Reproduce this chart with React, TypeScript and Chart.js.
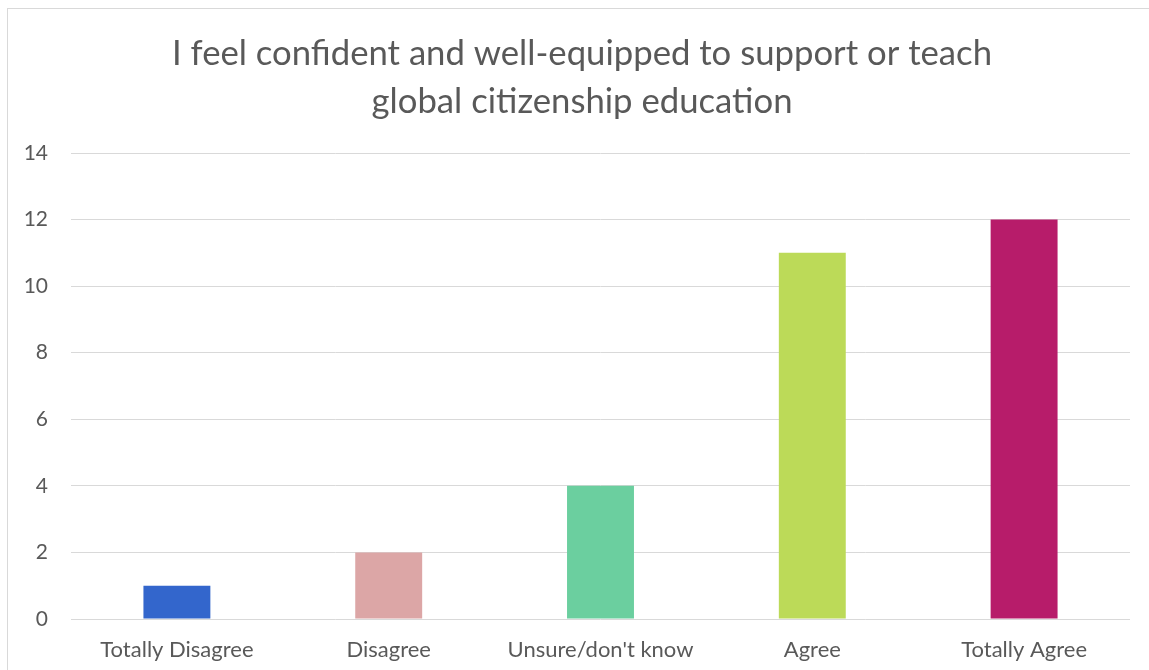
import React, { useEffect, useRef } from "react";
import { Chart, registerables } from "chart.js";

Chart.register(...registerables);

const titleLines = ["I feel confident and well-equipped to support or teach", "global citizenship education"];
const categories = ["Totally Disagree", "Disagree", "Unsure/don't know", "Agree", "Totally Agree"];
const counts = [1, 2, 4, 11, 12];
const barColors = ["#3366CC", "#DCA6A6", "#6BCF9F", "#BCDA58", "#B71C6A"];
const yTicks = [0, 2, 4, 6, 8, 10, 12, 14];

const FONT = "Lato, 'Open Sans', sans-serif";

export default function App() {
  const ref = useRef<HTMLCanvasElement | null>(null);

  useEffect(() => {
    if (!ref.current) return;
    const chart = new Chart(ref.current, {
      type: "bar",
      data: {
        labels: categories,
        datasets: [
          {
            data: counts,
            backgroundColor: barColors,
            borderWidth: 0,
            categoryPercentage: 1,
            barPercentage: 0.316,
          },
        ],
      },
      options: {
        animation: false,
        responsive: false,
        layout: { padding: { left: 0, right: 0, top: 0, bottom: 0 } },
        plugins: {
          legend: { display: false },
          tooltip: { enabled: false },
          title: {
            display: true,
            text: titleLines,
            color: "#595959",
            font: { family: FONT, size: 34.7, weight: "normal", lineHeight: 48 / 34.7 },
            padding: { top: 30, bottom: 27 },
          },
        },
        scales: {
          x: {
            grid: { display: false },
            border: { display: false },
            ticks: {
              color: "#595959",
              font: { family: FONT, size: 22 },
              padding: 10,
              maxRotation: 0,
              autoSkip: false,
            },
            afterFit: (s: any) => {
              s.height = 51;
            },
          },
          y: {
            min: 0,
            max: 14,
            afterBuildTicks: (s: any) => {
              s.ticks = yTicks.map((v) => ({ value: v }));
            },
            grid: { color: "#D9D9D9", lineWidth: 1, drawTicks: false },
            border: { display: false },
            ticks: {
              color: "#595959",
              font: { family: FONT, size: 21 },
              padding: 23,
            },
            afterFit: (s: any) => {
              s.width = 71;
            },
          },
          spacer: {
            type: "linear",
            position: "right",
            display: true,
            grid: { display: false, drawTicks: false },
            border: { display: false },
            ticks: { display: false },
            afterFit: (s: any) => {
              s.width = 34;
            },
          },
        },
      },
    });
    return () => chart.destroy();
  }, []);

  return (
    <div
      style={{
        position: "absolute",
        left: 0,
        top: 0,
        width: 1149,
        height: 670,
        overflow: "hidden",
        background: "#fff",
      }}
    >
      <div
        style={{
          position: "absolute",
          left: 7,
          top: 8,
          width: 1200,
          height: 700,
          border: "1px solid #D9D9D9",
          boxSizing: "border-box",
        }}
      />
      <canvas ref={ref} width={1164} height={670} style={{ position: "absolute", left: 0, top: 0 }} />
    </div>
  );
}
